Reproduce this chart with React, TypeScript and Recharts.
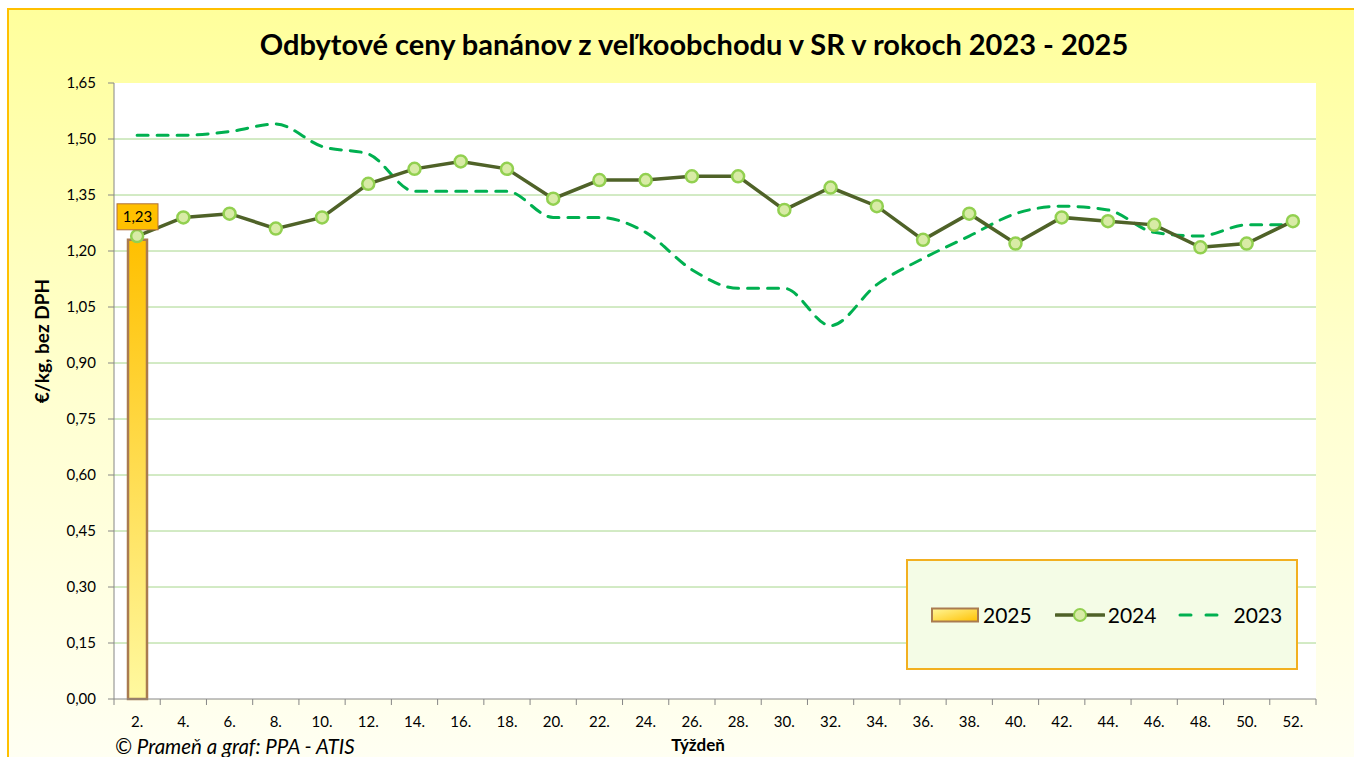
import {
  ComposedChart,
  Bar,
  Line,
  XAxis,
  YAxis,
  CartesianGrid,
  Legend,
  LabelList,
} from "recharts";

const WEEKS = [
  "2.", "4.", "6.", "8.", "10.", "12.", "14.", "16.", "18.", "20.", "22.", "24.", "26.",
  "28.", "30.", "32.", "34.", "36.", "38.", "40.", "42.", "44.", "46.", "48.", "50.", "52.",
];
const PRICES_2025 = [1.23];
const PRICES_2024 = [
  1.24, 1.29, 1.3, 1.26, 1.29, 1.38, 1.42, 1.44, 1.42, 1.34, 1.39, 1.39, 1.4,
  1.4, 1.31, 1.37, 1.32, 1.23, 1.3, 1.22, 1.29, 1.28, 1.27, 1.21, 1.22, 1.28,
];
const PRICES_2023 = [
  1.51, 1.51, 1.52, 1.54, 1.48, 1.46, 1.36, 1.36, 1.36, 1.29, 1.29, 1.25, 1.15,
  1.1, 1.1, 1.0, 1.11, 1.18, 1.24, 1.3, 1.32, 1.31, 1.25, 1.24, 1.27, 1.27,
];
const Y_TICKS = [0, 0.15, 0.3, 0.45, 0.6, 0.75, 0.9, 1.05, 1.2, 1.35, 1.5, 1.65];

const data = WEEKS.map((week, i) => ({
  week,
  y2025: PRICES_2025[i] ?? null,
  y2024: PRICES_2024[i] ?? null,
  y2023: PRICES_2023[i] ?? null,
}));

const W = 1354;
const H = 757;
const MARGIN = { top: 83, right: 38, bottom: 28, left: 54 };
const Y_AXIS_W = 60;
const PLOT_W = W - MARGIN.left - MARGIN.right - Y_AXIS_W;
const BAND = PLOT_W / WEEKS.length;

const FONT = "Lato, 'Open Sans', sans-serif";
const AXIS_GRAY = "#868686";
const BORDER_BROWN = "#A08060";
const GRID_GREEN = "#A6D68A";
const OLIVE = "#4F6228";
const DOT_FILL = "#D8EBA6";
const DOT_STROKE = "#92D050";
const GREEN_2023 = "#00B050";

const fmt = (v: number) => v.toFixed(2).replace(".", ",");

// week tick: label in the middle, tick marks on the category boundaries (Excel style)
function WeekTick(props: any) {
  const { x, y, payload, index } = props;
  return (
    <g>
      <line x1={x - BAND / 2} x2={x - BAND / 2} y1={y} y2={y + 6} stroke={AXIS_GRAY} />
      {index === WEEKS.length - 1 && (
        <line x1={x + BAND / 2} x2={x + BAND / 2} y1={y} y2={y + 6} stroke={AXIS_GRAY} />
      )}
      <text
        x={x}
        y={y + 23}
        dy="0.35em"
        textAnchor="middle"
        fontSize={15}
        fontFamily={FONT}
        fill="#000"
      >
        {payload.value}
      </text>
    </g>
  );
}

function BarValueLabel(props: any) {
  const { x, y, width, value } = props;
  if (value == null) return null;
  const cx = x + width / 2;
  return (
    <g>
      <rect x={cx - 20.5} y={y - 36} width={41} height={26} fill="#FFC000" stroke="#B0703A" strokeWidth={1} />
      <text x={cx} y={y - 23} dy="0.35em" textAnchor="middle" fontSize={15} fontFamily={FONT} fill="#000">
        {fmt(value)}
      </text>
    </g>
  );
}

function LegendBox() {
  const text = { fontSize: 21, fontFamily: FONT, color: "#000" };
  return (
    <div
      style={{
        width: 392,
        height: 111,
        boxSizing: "border-box",
        background: "#F4FCE6",
        border: "2px solid #F2B020",
        display: "flex",
        alignItems: "center",
        paddingLeft: 23,
      }}
    >
      <svg width={48} height={16} style={{ marginRight: 4 }}>
        <defs>
          <linearGradient id="legBar" x1="0" y1="0" x2="1" y2="1">
            <stop offset="0%" stopColor="#FFF799" />
            <stop offset="100%" stopColor="#FFC000" />
          </linearGradient>
        </defs>
        <rect x={1} y={1.5} width={46} height={13} fill="url(#legBar)" stroke="#A97B50" strokeWidth={2} />
      </svg>
      <span style={text}>2025</span>
      <svg width={50} height={20} style={{ marginLeft: 23, marginRight: 3 }}>
        <line x1={1} x2={49} y1={10} y2={10} stroke={OLIVE} strokeWidth={3.5} strokeLinecap="round" />
        <circle cx={25} cy={10} r={6} fill={DOT_FILL} stroke={DOT_STROKE} strokeWidth={2} />
      </svg>
      <span style={text}>2024</span>
      <svg width={46} height={20} style={{ marginLeft: 22, marginRight: 9 }}>
        <line
          x1={2}
          x2={44}
          y1={10}
          y2={10}
          stroke={GREEN_2023}
          strokeWidth={3}
          strokeDasharray="11 15"
          strokeLinecap="round"
        />
      </svg>
      <span style={text}>2023</span>
    </div>
  );
}

export default function App() {
  return (
    <div style={{ position: "absolute", left: 0, top: 0, width: W, height: H, overflow: "hidden" }}>
      {/* frame + background */}
      <div
        style={{
          position: "absolute",
          left: 7,
          top: 8,
          width: W,
          height: H + 10,
          border: "2px solid #FFC000",
          background: "linear-gradient(180deg, #FFFF9C 0%, #FFFFD0 50%, #FFFFF4 100%)",
        }}
      />

      <div
        style={{
          position: "absolute",
          left: 0,
          top: 26,
          width: 1388,
          textAlign: "center",
          fontFamily: FONT,
          fontWeight: 700,
          fontSize: 29,
          lineHeight: "36px",
          color: "#000",
        }}
      >
        Odbytové ceny banánov z veľkoobchodu v SR v rokoch 2023 - 2025
      </div>

      <div
        style={{
          position: "absolute",
          left: 41,
          top: 341,
          transform: "translate(-50%, -50%) rotate(-90deg)",
          whiteSpace: "nowrap",
          fontFamily: FONT,
          fontWeight: 700,
          fontSize: 19,
          color: "#000",
        }}
      >
        €/kg, bez DPH
      </div>

      <ComposedChart
        width={W}
        height={H}
        data={data}
        margin={MARGIN}
        style={{ position: "absolute", left: 0, top: 0 }}
      >
        <defs>
          <linearGradient id="bar2025" x1="0" y1="0" x2="0" y2="1">
            <stop offset="0%" stopColor="#FFC000" />
            <stop offset="100%" stopColor="#FFF9A0" />
          </linearGradient>
        </defs>
        <CartesianGrid
          vertical={false}
          stroke={GRID_GREEN}
          fill="#FFFFFF"
          horizontalValues={Y_TICKS.slice(1, -1)}
        />
        <XAxis
          dataKey="week"
          interval={0}
          tickLine={false}
          tickSize={0}
          tickMargin={0}
          height={30}
          axisLine={{ stroke: AXIS_GRAY }}
          tick={<WeekTick />}
        />
        <XAxis
          xAxisId="top"
          dataKey="week"
          orientation="top"
          height={0}
          tick={false}
          tickLine={false}
          axisLine={{ stroke: BORDER_BROWN }}
        />
        <YAxis
          width={Y_AXIS_W}
          domain={[0, 1.65]}
          ticks={Y_TICKS}
          tickFormatter={fmt}
          tickSize={6}
          tickMargin={12}
          axisLine={{ stroke: AXIS_GRAY }}
          tickLine={{ stroke: AXIS_GRAY }}
          tick={{ fontSize: 15, fontFamily: FONT, fill: "#000" }}
          interval={0}
        />
        <YAxis
          yAxisId="right"
          orientation="right"
          width={0}
          domain={[0, 1.65]}
          tick={false}
          tickLine={false}
          axisLine={{ stroke: BORDER_BROWN }}
        />
        <Legend
          layout="horizontal"
          verticalAlign="middle"
          align="center"
          content={() => <LegendBox />}
          wrapperStyle={{ left: 906, top: 559, width: 392, height: 111 }}
        />
        <Bar
          dataKey="y2025"
          name="2025"
          barSize={19}
          fill="url(#bar2025)"
          stroke="#A97B50"
          strokeWidth={2.5}
          isAnimationActive={false}
        >
          <LabelList dataKey="y2025" content={<BarValueLabel />} />
        </Bar>
        <Line
          type="monotone"
          dataKey="y2023"
          name="2023"
          stroke={GREEN_2023}
          strokeWidth={3}
          strokeDasharray="11 9"
          strokeLinecap="round"
          dot={false}
          activeDot={false}
          isAnimationActive={false}
        />
        <Line
          type="linear"
          dataKey="y2024"
          name="2024"
          stroke={OLIVE}
          strokeWidth={3.5}
          dot={{ r: 6, fill: DOT_FILL, stroke: DOT_STROKE, strokeWidth: 2.5 }}
          activeDot={false}
          isAnimationActive={false}
        />
      </ComposedChart>

      <div
        style={{
          position: "absolute",
          left: 698,
          top: 744,
          transform: "translate(-50%, -50%)",
          fontFamily: FONT,
          fontWeight: 700,
          fontSize: 17,
          color: "#000",
          whiteSpace: "nowrap",
        }}
      >
        Týždeň
      </div>
      <div
        style={{
          position: "absolute",
          left: 115,
          top: 746,
          transform: "translateY(-50%)",
          fontFamily: FONT,
          fontStyle: "italic",
          fontSize: 20.5,
          color: "#000",
          whiteSpace: "nowrap",
        }}
      >
        © Prameň a graf: PPA - ATIS
      </div>
    </div>
  );
}
